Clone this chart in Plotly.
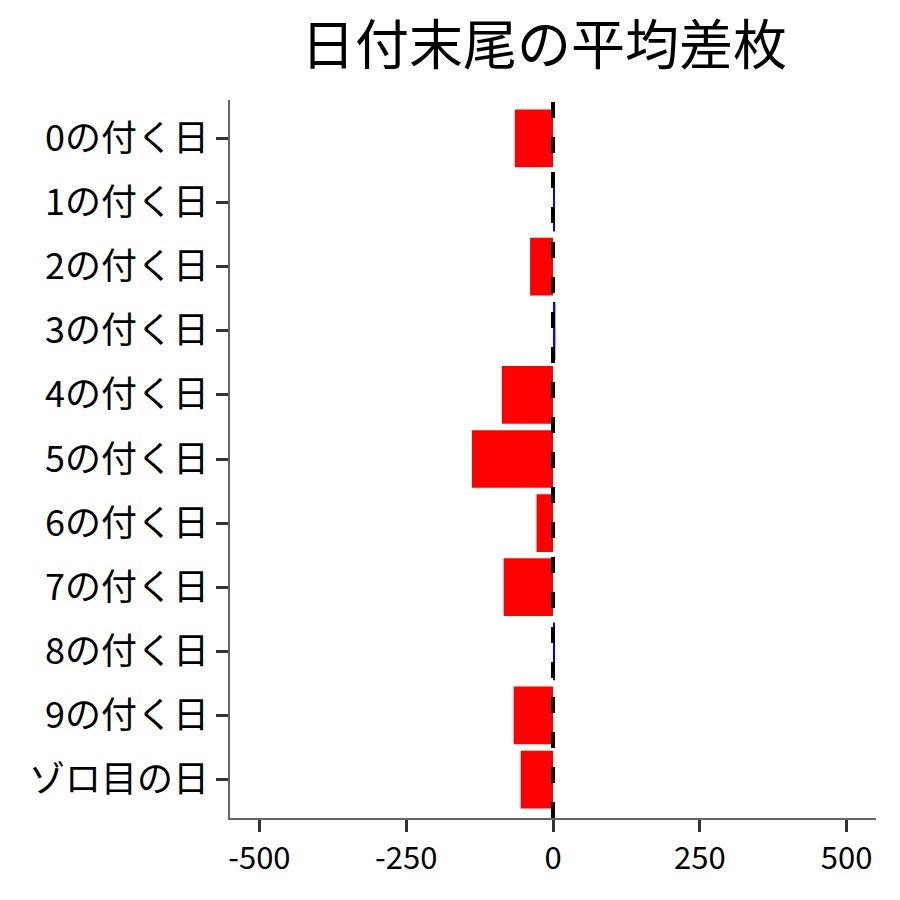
#!/usr/bin/env python3

import plotly.graph_objs as go

# data
categories = ["0の付く日", "1の付く日", "2の付く日", "3の付く日", "4の付く日",
              "5の付く日", "6の付く日", "7の付く日", "8の付く日", "9の付く日", "ゾロ目の日"]
avg_diff = [-65, 2, -39, 4, -87, -138, -28, -84, 2, -67, -55]
x_ticks = [-500, -250, 0, 250, 500]

FONT = "Noto Sans CJK JP"

colors = ["#FF0000" if v < 0 else "#0000FF" for v in avg_diff]

trace = go.Bar(x=avg_diff, y=categories, orientation="h", width=0.9,
               marker=dict(color=colors, line=dict(width=0)))

# the page puts the figure 8px in from the top left, margins allow for that
layout = go.Layout(
    width=900, height=900,
    paper_bgcolor="white", plot_bgcolor="white",
    margin=dict(l=222, r=32, t=92, b=90),
    font=dict(family=FONT, color="black"),
    title=dict(text="日付末尾の平均差枚", font=dict(family=FONT, size=54, color="black"),
               xref="paper", x=0.486, xanchor="center", yref="container", y=0.958, yanchor="middle"),
    showlegend=False,
    xaxis=dict(range=[-550, 550], tickvals=x_ticks, ticktext=[str(t) for t in x_ticks],
               showgrid=False, zeroline=False, showline=True, linecolor="#666666", linewidth=1.5,
               ticks="outside", ticklen=12, tickwidth=3, tickcolor="#333333",
               tickfont=dict(family=FONT, size=31, color="black"), automargin=False),
    yaxis=dict(categoryorder="array", categoryarray=categories, range=[10.6, -0.6],
               showgrid=False, zeroline=False, showline=True, linecolor="#666666", linewidth=1.5,
               ticks="outside", ticklen=12, tickwidth=3, tickcolor="#333333",
               tickfont=dict(family=FONT, size=36, color="black"), automargin=False),
    shapes=[dict(type="line", xref="x", yref="paper", x0=0, x1=0, y0=0, y1=1,
                 line=dict(color="black", width=4, dash="16px,19px"), layer="above")],
)

fig = go.Figure(data=[trace], layout=layout)
fig.write_html("out.html")
